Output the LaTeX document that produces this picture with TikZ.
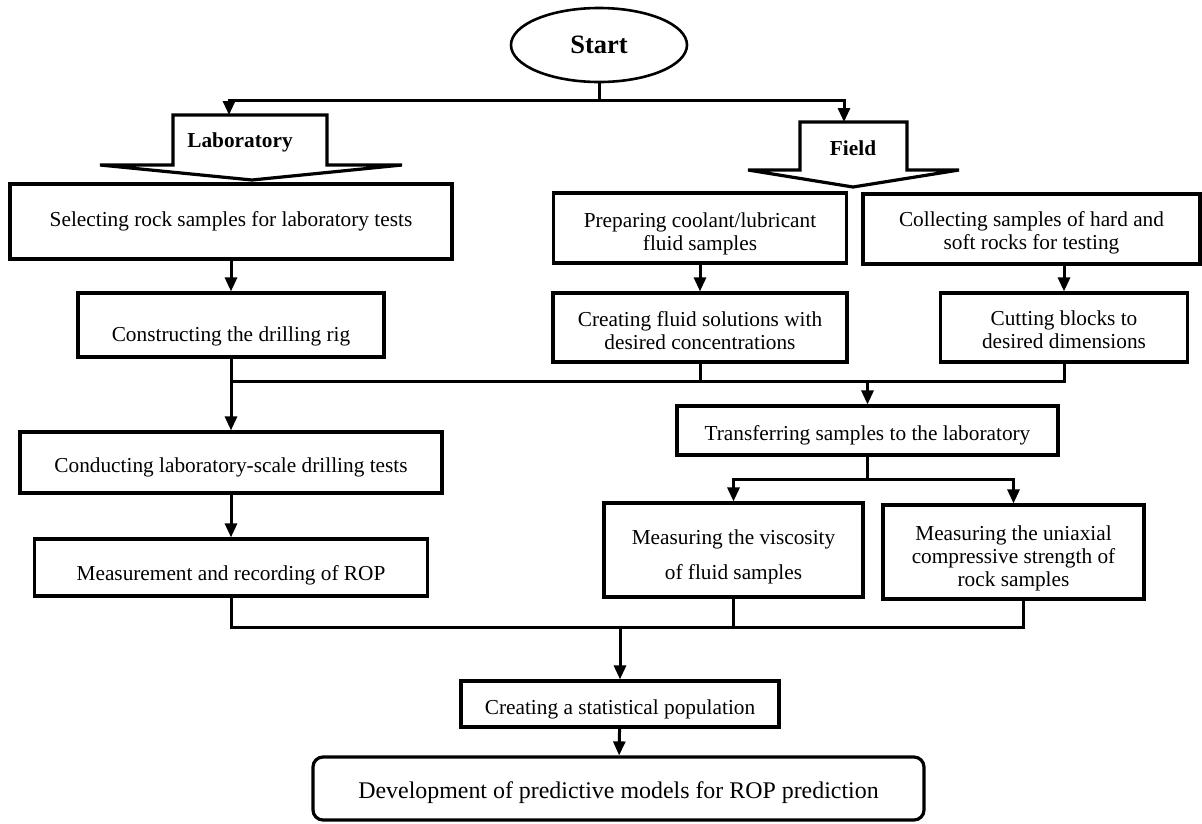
\documentclass[tikz,border=0pt]{standalone}
\usepackage{fontspec}
\setmainfont{Liberation Serif}
\usetikzlibrary{shapes.geometric,arrows.meta}
\pgfdeclarelayer{edgelayer}
\pgfdeclarelayer{nodelayer}
\pgfsetlayers{edgelayer,nodelayer,main}
\newcommand{\dropline}[1]{\rule{0pt}{#1pt}}
\tikzstyle{box}=[draw=black, fill=white, line width=3.2pt, inner sep=0pt, align=center, font=\fontsize{21.3}{23}\selectfont]
\tikzstyle{terminal}=[ellipse, draw=black, fill=white, line width=2.6pt, minimum width=176pt, minimum height=74pt, inner sep=0pt, font=\fontsize{26.5}{28}\selectfont\bfseries]
\tikzstyle{banner}=[draw=black, fill=white, line width=3.2pt, line join=miter]
\tikzstyle{bannertext}=[inner sep=0pt, font=\fontsize{21.3}{23}\selectfont\bfseries]
\tikzstyle{link}=[draw=black, line width=3pt]
\tikzstyle{flow}=[draw=black, line width=3pt, -{Triangle[width=12pt,length=14pt]}]

\begin{document}
\begin{tikzpicture}[x=1pt, y=-1pt]
			\useasboundingbox (0,0) rectangle (1202,823);
			\begin{pgfonlayer}{nodelayer}
			\node [style=terminal] (start) at (599, 45) {Start};
			\draw [style=banner] (173,115) -- (327,115) -- (327,165) -- (402,165) -- (252,180) -- (100,165) -- (173,165) -- cycle;
			\node [style=bannertext] (lab) at (240,142) {Laboratory};
			\draw [style=banner] (800,122) -- (907,122) -- (907,170) -- (959,170) -- (853,187) -- (748,170) -- (800,170) -- cycle;
			\node [style=bannertext] (field) at (853,148) {Field};
			\node [style=box, minimum width=442pt, minimum height=75pt] (select) at (231, 221.5) {Selecting rock samples for laboratory tests};
			\node [style=box, minimum width=306pt, minimum height=64pt] (rig) at (231, 325) {\dropline{38}Constructing the drilling rig};
			\node [style=box, minimum width=293pt, minimum height=70pt] (prepare) at (700, 228) {\dropline{27}Preparing coolant/lubricant\\fluid samples};
			\node [style=box, minimum width=294pt, minimum height=69pt] (solution) at (700, 327.5) {\dropline{22}Creating fluid solutions with\\desired concentrations};
			\node [style=box, minimum width=337pt, minimum height=70pt] (collect) at (1031.5, 229) {\dropline{23}Collecting samples of hard and\\soft rocks for testing};
			\node [style=box, minimum width=247pt, minimum height=69pt] (cut) at (1064, 327.5) {\dropline{20}Cutting blocks to\\desired dimensions};
			\node [style=box, minimum width=422pt, minimum height=61pt] (drilltest) at (231, 462.5) {\dropline{25}Conducting laboratory-scale drilling tests};
			\node [style=box, minimum width=393pt, minimum height=57pt] (rop) at (231, 567.5) {\dropline{31}Measurement and recording of ROP};
			\node [style=box, minimum width=381pt, minimum height=49pt] (transfer) at (867.5, 430.5) {\dropline{25}Transferring samples to the laboratory};
			\node [style=box, minimum width=259pt, minimum height=94pt] (viscosity) at (733.5, 550) {\dropline{29}Measuring the viscosity\\[12pt]of fluid samples};
			\node [style=box, minimum width=261pt, minimum height=94pt] (ucs) at (1013.5, 552) {\dropline{27}Measuring the uniaxial\\compressive strength of\\rock samples};
			\node [style=box, minimum width=318pt, minimum height=46pt] (population) at (620, 704) {\dropline{25}Creating a statistical population};
			\node [style=box, rounded corners=10pt, minimum width=611pt, minimum height=63pt] (model) at (618.5, 788.5) {\fontsize{23.9}{26}\selectfont\dropline{25}Development of predictive models for ROP prediction};
			\end{pgfonlayer}
			\begin{pgfonlayer}{edgelayer}
			\coordinate (split) at (0,100);
			\coordinate (labin) at (229,115);
			\coordinate (fieldin) at (844,122);
			\coordinate (busa) at (0,381);
			\coordinate (fork) at (0,479);
			\coordinate (busb) at (0,627);
			\draw [style=link] (start) -- (start |- split);
			\draw [style=flow] (start |- split) -| (labin);
			\draw [style=flow] (start |- split) -| (fieldin);
			\draw [style=flow] (select) -- (rig);
			\draw [style=flow] (prepare) -- (solution);
			\draw [style=flow] (collect.south -| cut) -- (cut);
			\draw [style=link] (rig) -- (rig |- busa) -- (cut |- busa) -- (cut);
			\draw [style=link] (solution) -- (solution |- busa);
			\draw [style=flow] (rig |- busa) -- (drilltest);
			\draw [style=flow] (transfer |- busa) -- (transfer);
			\draw [style=flow] (drilltest) -- (rop);
			\draw [style=link] (transfer) -- (transfer |- fork);
			\draw [style=flow] (transfer |- fork) -| (viscosity);
			\draw [style=flow] (transfer |- fork) -| (ucs);
			\draw [style=link] (rop) -- (rop |- busb) -- ([xshift=10pt]ucs.south |- busb) -- ([xshift=10pt]ucs.south);
			\draw [style=link] (viscosity) -- (viscosity |- busb);
			\draw [style=flow] (population |- busb) -- (population);
			\draw [style=flow] (population) -- (model);
			\end{pgfonlayer}
\end{tikzpicture}
\end{document}
